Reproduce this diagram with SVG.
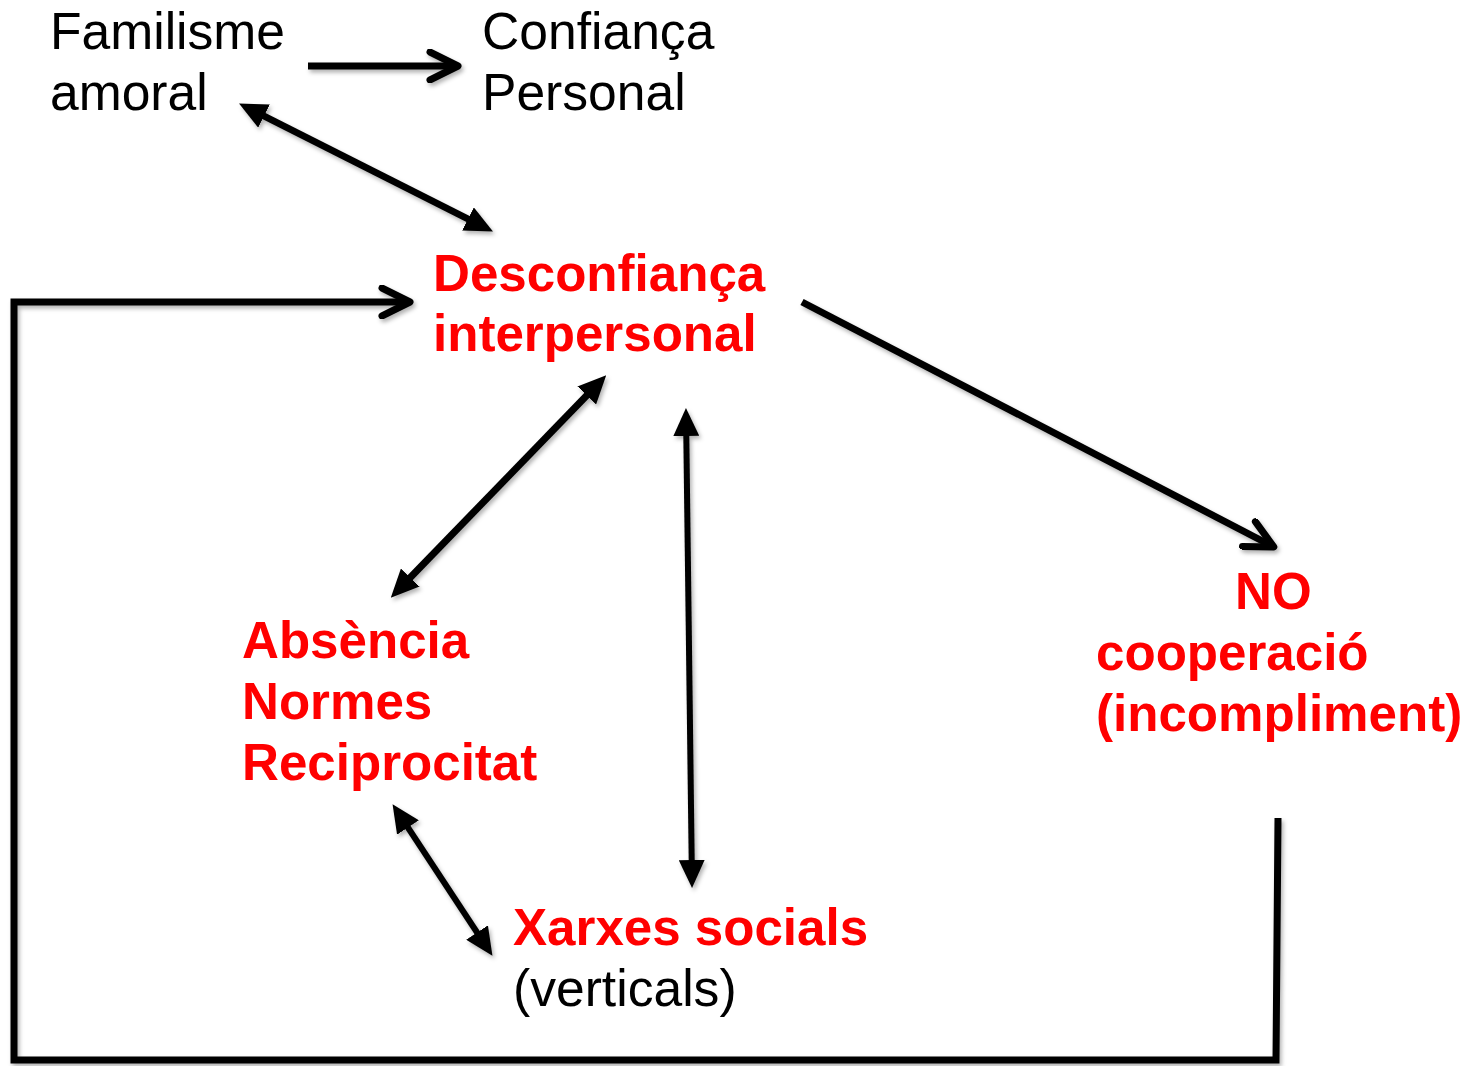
<svg xmlns="http://www.w3.org/2000/svg" width="1463" height="1066" viewBox="0 0 1463 1066">
  <defs>
    <style>
      .t { font-family: "Liberation Sans", Arial, Helvetica, sans-serif; font-size: 51.6px; }
      .blk { fill: #000; }
      .red { fill: #ff0000; font-weight: bold; font-size: 51.1px; }
      .c { fill: none; stroke: #000; stroke-linejoin: miter; }
    </style>
    <filter id="sh" x="-10%" y="-10%" width="120%" height="120%">
      <feDropShadow dx="2" dy="3" stdDeviation="2" flood-color="#000" flood-opacity="0.3"/>
    </filter>
    <marker id="tri" viewBox="0 0 28 26" refX="9" refY="13" markerWidth="28" markerHeight="26" markerUnits="userSpaceOnUse" orient="auto-start-reverse">
      <path d="M0,0 L28,13 L0,26 Z" fill="#000"/>
    </marker>
    <marker id="chev" viewBox="0 0 36 34" refX="30" refY="17" markerWidth="36" markerHeight="34" markerUnits="userSpaceOnUse" orient="auto">
      <path d="M4,3 L32,17 L4,31" fill="none" stroke="#000" stroke-width="7" stroke-linecap="round" stroke-linejoin="round"/>
    </marker>
  </defs>
  <rect width="1463" height="1066" fill="#fff"/>

  <g id="connectors" filter="url(#sh)">
    <line class="c" x1="308" y1="66" x2="456" y2="66" stroke-width="7" marker-end="url(#chev)"/>
    <line class="c" x1="256" y1="112" x2="476" y2="223" stroke-width="7" marker-start="url(#tri)" marker-end="url(#tri)"/>
    <polyline class="c" points="1278,818 1276,1060 14,1060 14,302 408,302" stroke-width="7" marker-end="url(#chev)"/>
    <line class="c" x1="802" y1="302" x2="1272" y2="546" stroke-width="7" marker-end="url(#chev)"/>
    <line class="c" x1="593" y1="389" x2="404" y2="584" stroke-width="7" marker-start="url(#tri)" marker-end="url(#tri)"/>
    <line class="c" x1="686.2" y1="427" x2="691.8" y2="869" stroke-width="6" marker-start="url(#tri)" marker-end="url(#tri)"/>
    <line class="c" x1="403" y1="820" x2="482" y2="940" stroke-width="6" marker-start="url(#tri)" marker-end="url(#tri)"/>
  </g>

  <g id="familisme">
    <text class="t blk" x="50" y="49">Familisme</text>
    <text class="t blk" x="50" y="110">amoral</text>
  </g>
  <g id="confianca">
    <text class="t blk" x="482" y="49">Confiança</text>
    <text class="t blk" x="482" y="110">Personal</text>
  </g>
  <g id="desconfianca">
    <text class="t red" x="433" y="291">Desconfiança</text>
    <text class="t red" x="433" y="351">interpersonal</text>
  </g>
  <g id="absencia">
    <text class="t red" x="242" y="658">Absència</text>
    <text class="t red" x="242" y="719">Normes</text>
    <text class="t red" x="242" y="780">Reciprocitat</text>
  </g>
  <g id="nocooperacio">
    <text class="t red" x="1235" y="609">NO</text>
    <text class="t red" x="1096" y="670">cooperació</text>
    <text class="t red" x="1096" y="731">(incompliment)</text>
  </g>
  <g id="xarxes">
    <text class="t red" x="513" y="945">Xarxes socials</text>
    <text class="t blk" x="513" y="1006">(verticals)</text>
  </g>
</svg>
